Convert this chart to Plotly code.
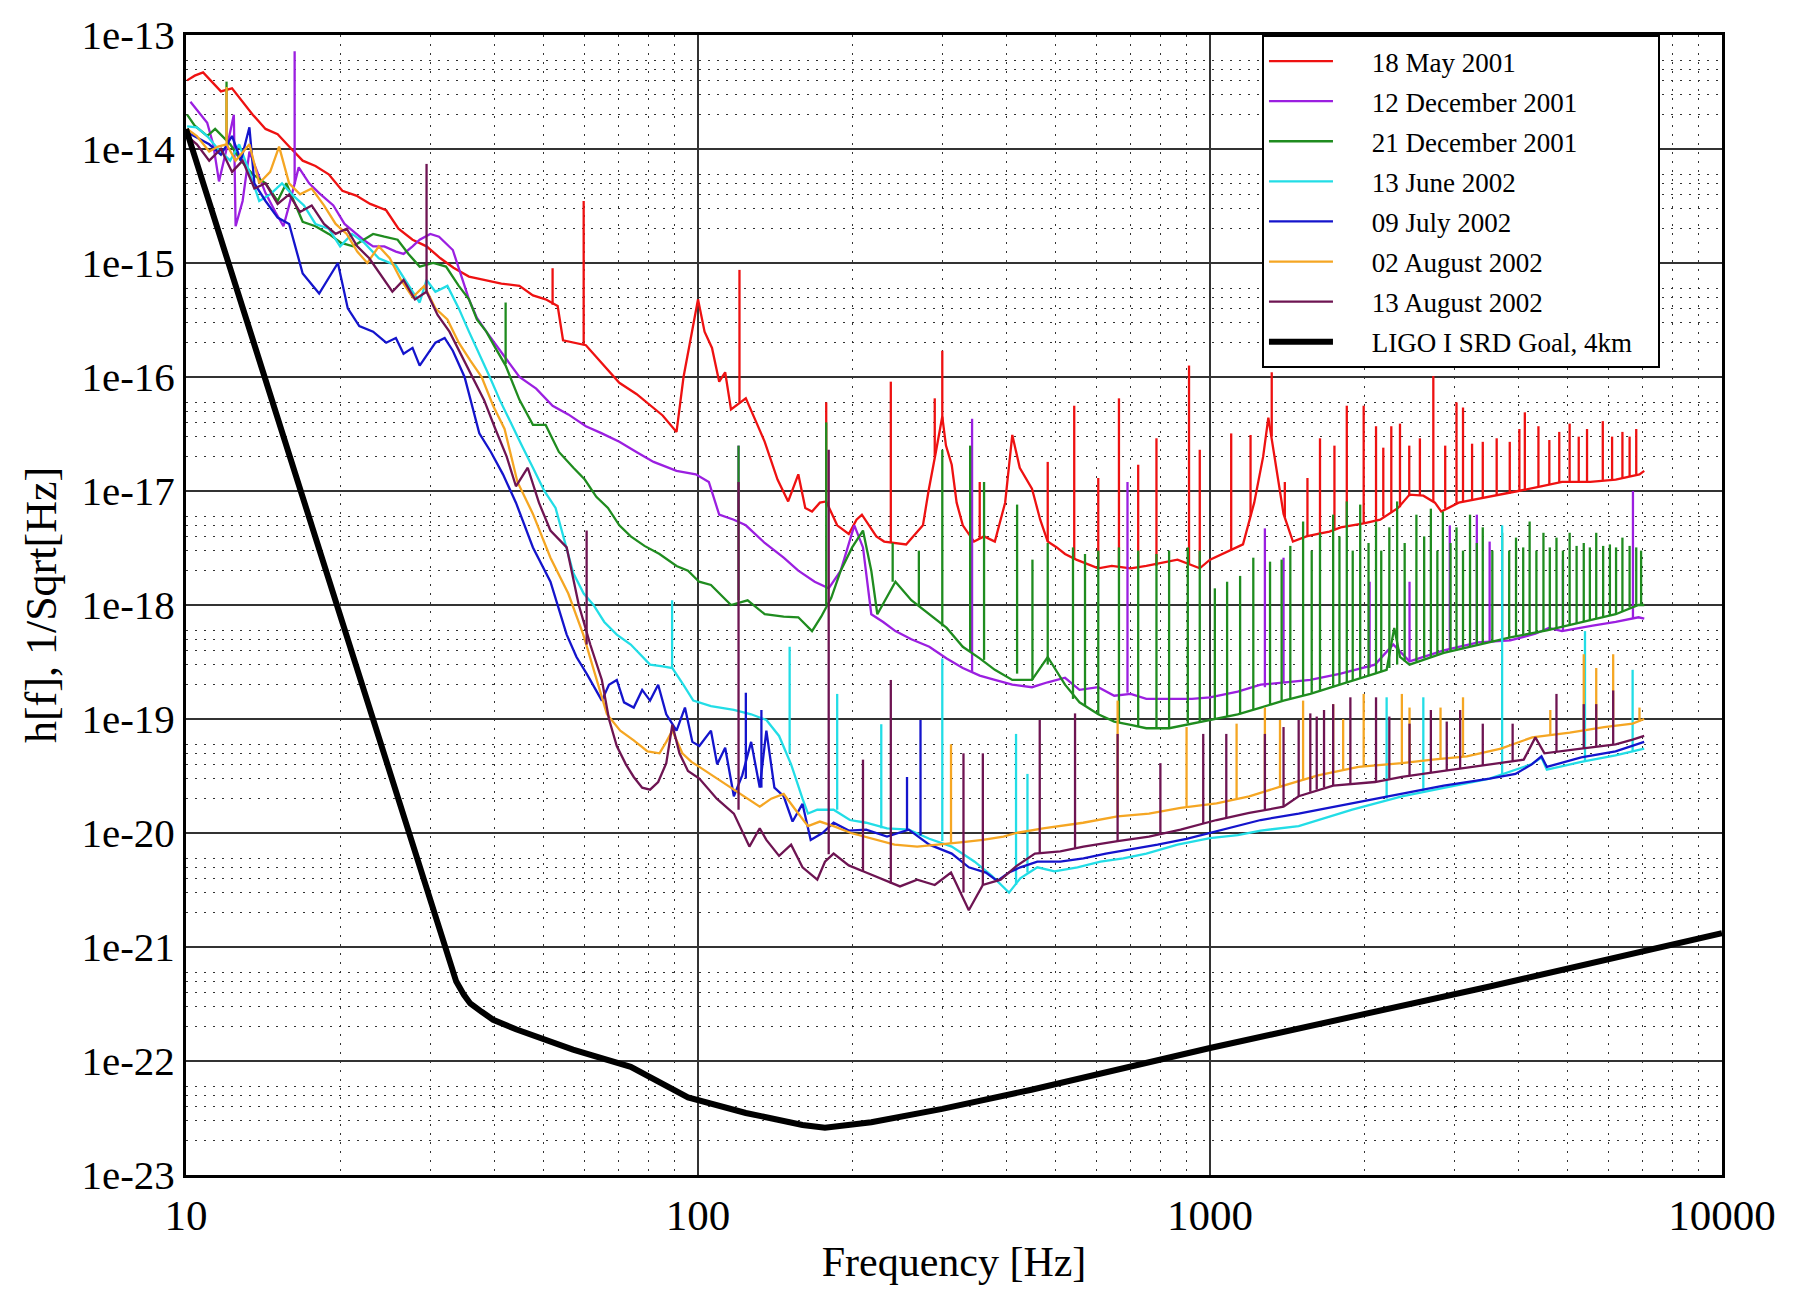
import plotly.graph_objects as go

# ---------------- data ----------------
# 18 May 2001
may18_f = [10.05, 10.4, 10.8, 11.3, 11.7, 12.3, 13.0, 13.5, 14.3, 15.1,
           15.9, 16.9, 17.9, 19.0, 20.2, 21.5, 22.9, 24.6, 26.0, 27.7,
           29.5, 31.4, 33.3, 35.7, 38.2, 41.3, 44.8, 47.6, 50.4, 53.2,
           54.5, 57.1, 60.4, 63.3, 66.7, 70.2, 75.8, 81.1, 85.3, 90.8,
           93.7, 97.8, 100, 103, 106.5, 110, 113, 116, 124, 130,
           135, 143, 150, 157, 162, 167, 173, 178, 187, 197,
           204, 209, 223, 231, 245, 255, 275, 282, 292, 300,
           305, 313, 320, 329, 346, 362, 380, 398, 411, 425,
           449, 466, 482, 502, 521, 548, 605, 643, 700, 751,
           864, 955, 1000, 1054, 1160, 1220, 1270, 1300, 1336, 1392,
           1452, 1543, 1625, 1711, 1800, 1996, 2150, 2330, 2453, 2610,
           2750, 2830, 3060, 3430, 3680, 4000, 4430, 4870, 5530, 6200,
           6900, 7050]
may18_h = [4.0e-14, 4.4e-14, 4.7e-14, 3.8e-14, 3.2e-14, 3.4e-14, 2.5e-14, 2.0e-14, 1.5e-14, 1.35e-14,
           1.05e-14, 7.9e-15, 7.1e-15, 6.0e-15, 4.3e-15, 3.9e-15, 3.3e-15, 2.9e-15, 2.0e-15, 1.6e-15,
           1.4e-15, 1.1e-15, 9.1e-16, 7.6e-16, 7.1e-16, 6.6e-16, 6.3e-16, 5.2e-16, 4.8e-16, 4.2e-16,
           2.1e-16, 2.0e-16, 1.9e-16, 1.5e-16, 1.15e-16, 8.9e-17, 7.1e-17, 5.5e-17, 4.6e-17, 3.3e-17,
           1.0e-16, 2.8e-16, 4.8e-16, 2.5e-16, 1.8e-16, 9.1e-17, 1.1e-16, 5.2e-17, 6.5e-17, 4.0e-17,
           2.7e-17, 1.26e-17, 8.1e-18, 1.4e-17, 7.1e-18, 6.6e-18, 7.9e-18, 8.1e-18, 5.0e-18, 4.2e-18,
           5.6e-18, 6.2e-18, 4.0e-18, 3.6e-18, 3.5e-18, 3.4e-18, 5.0e-18, 1.0e-17, 2.3e-17, 4.5e-17,
           2.5e-17, 1.7e-17, 7.9e-18, 5.0e-18, 3.6e-18, 4.0e-18, 3.6e-18, 7.9e-18, 3.1e-17, 1.6e-17,
           1.05e-17, 5.6e-18, 3.6e-18, 3.2e-18, 2.8e-18, 2.5e-18, 2.1e-18, 2.2e-18, 2.1e-18, 2.2e-18,
           2.5e-18, 2.1e-18, 2.5e-18, 2.8e-18, 3.4e-18, 7.9e-18, 2.0e-17, 4.4e-17, 2.0e-17, 6.3e-18,
           3.6e-18, 4.0e-18, 4.2e-18, 4.4e-18, 4.8e-18, 5.2e-18, 5.6e-18, 7.1e-18, 9.3e-18, 9.1e-18,
           7.9e-18, 6.6e-18, 7.9e-18, 8.7e-18, 9.3e-18, 1.0e-17, 1.1e-17, 1.2e-17, 1.2e-17, 1.26e-17,
           1.4e-17, 1.5e-17]
may18_line_f = [52.0, 59.8, 120.5, 178, 238, 290, 300, 355, 482, 543,
                605, 664, 724, 786, 910, 955, 1100, 1200, 1320, 1400,
                1550, 1640, 1750, 1850, 1996, 2110, 2180, 2260, 2350, 2450,
                2570, 2730, 2880, 3030, 3120, 3250, 3410, 3630, 3850, 4020,
                4120, 4380, 4600, 4810, 5040, 5250, 5450, 5850, 6100, 6390,
                6600, 6800]
may18_line_lo = [4.3e-16, 1.9e-16, 6.0e-17, 7.5e-18, 3.5e-18, 2.0e-17, 4.0e-17, 3.8e-18, 3.6e-18, 2.5e-18,
                 2.1e-18, 2.2e-18, 2.1e-18, 2.2e-18, 2.3e-18, 2.1e-18, 3.0e-18, 6.0e-18, 3.0e-17, 6.0e-18,
                 4.0e-18, 4.2e-18, 4.5e-18, 4.9e-18, 5.2e-18, 5.4e-18, 6.0e-18, 6.5e-18, 7.2e-18, 9.0e-18,
                 9.2e-18, 8.0e-18, 7.0e-18, 7.8e-18, 8.0e-18, 8.2e-18, 8.7e-18, 9.2e-18, 9.5e-18, 1.0e-17,
                 1.0e-17, 1.1e-17, 1.15e-17, 1.2e-17, 1.2e-17, 1.2e-17, 1.2e-17, 1.25e-17, 1.25e-17, 1.3e-17,
                 1.35e-17, 1.4e-17]
may18_line_hi = [9.0e-16, 3.5e-15, 8.7e-16, 6.0e-17, 9.1e-17, 6.5e-17, 1.7e-16, 1.2e-17, 1.8e-17, 5.6e-17,
                 1.3e-17, 6.5e-17, 1.7e-17, 2.9e-17, 1.26e-16, 2.3e-17, 3.2e-17, 3.1e-17, 1.1e-16, 1.2e-17,
                 1.3e-17, 2.9e-17, 2.5e-17, 5.6e-17, 5.6e-17, 3.7e-17, 2.4e-17, 3.7e-17, 3.9e-17, 2.5e-17,
                 2.9e-17, 1.02e-16, 2.5e-17, 6.0e-17, 5.4e-17, 2.6e-17, 2.7e-17, 2.9e-17, 2.7e-17, 3.5e-17,
                 4.9e-17, 3.7e-17, 2.8e-17, 3.3e-17, 3.9e-17, 3.0e-17, 3.5e-17, 4.1e-17, 3.0e-17, 3.3e-17,
                 3.0e-17, 3.5e-17]

# 12 December 2001
dec12_f = [10.2, 10.5, 11.0, 11.3, 11.6, 12.0, 12.4, 12.5, 12.9, 13.3,
           13.8, 14.3, 14.95, 15.5, 15.9, 16.3, 16.6, 17.4, 18.2, 19.4,
           20.4, 21.2, 22.2, 23.2, 24.4, 25.7, 26.6, 27.7, 28.6, 30.0,
           31.2, 33.2, 34.4, 35.7, 37.0, 38.6, 41.5, 44.8, 48.3, 52.0,
           55.8, 60.4, 64.9, 70.2, 75.8, 81.9, 90.8, 99, 105, 110,
           117.5, 124, 135, 147, 157, 169, 180, 190, 202, 210,
           218, 230, 243, 261, 283, 306, 329, 355, 380, 411,
           449, 482, 521, 556, 605, 650, 700, 751, 832, 922,
           1000, 1133, 1256, 1392, 1570, 1800, 2100, 2280, 2453, 2862,
           3340, 3860, 4321, 4590, 4870, 5590, 6200, 6870, 7050]
dec12_h = [2.6e-14, 2.2e-14, 1.7e-14, 1.1e-14, 5.2e-15, 1.0e-14, 2.0e-14, 2.1e-15, 3.5e-15, 9.5e-15,
           6.3e-15, 4.1e-15, 2.8e-15, 2.1e-15, 3.2e-15, 5.0e-15, 6.9e-15, 5.0e-15, 4.1e-15, 3.2e-15,
           2.2e-15, 1.9e-15, 1.6e-15, 1.4e-15, 1.4e-15, 1.26e-15, 1.2e-15, 1.4e-15, 1.6e-15, 1.8e-15,
           1.7e-15, 1.3e-15, 7.9e-16, 4.8e-16, 3.3e-16, 2.5e-16, 1.6e-16, 1.0e-16, 7.9e-17, 5.6e-17,
           4.7e-17, 3.7e-17, 3.2e-17, 2.7e-17, 2.2e-17, 1.8e-17, 1.5e-17, 1.4e-17, 1.2e-17, 6.2e-18,
           5.6e-18, 5.0e-18, 3.5e-18, 2.6e-18, 2.0e-18, 1.6e-18, 1.4e-18, 2.0e-18, 5.0e-18, 3.2e-18,
           8.3e-19, 7.1e-19, 5.9e-19, 5.0e-19, 4.3e-19, 3.4e-19, 2.8e-19, 2.4e-19, 2.2e-19, 2.0e-19,
           1.9e-19, 2.1e-19, 2.3e-19, 1.8e-19, 1.9e-19, 1.6e-19, 1.66e-19, 1.5e-19, 1.5e-19, 1.5e-19,
           1.55e-19, 1.74e-19, 2.0e-19, 2.1e-19, 2.2e-19, 2.5e-19, 3.0e-19, 4.5e-19, 3.2e-19, 4.0e-19,
           4.7e-19, 4.9e-19, 5.6e-19, 6.3e-19, 5.9e-19, 6.6e-19, 7.1e-19, 7.8e-19, 7.6e-19]
dec12_line_f = [16.3, 120, 343, 690, 1280, 1392, 2050, 2453, 2940, 3320, 3517, 4890, 6700]
dec12_line_lo = [5.0e-15, 5.6e-18, 2.6e-19, 1.7e-19, 1.9e-19, 2.1e-19, 2.8e-19, 3.2e-19, 4.1e-19, 4.7e-19,
                 4.8e-19, 5.9e-19, 7.6e-19]
dec12_line_hi = [7.2e-14, 2.5e-17, 4.3e-17, 1.2e-17, 4.7e-18, 2.6e-18, 1.6e-18, 1.6e-18, 5.0e-18, 6.2e-18,
                 3.6e-18, 2.5e-18, 1.0e-17]

# 21 December 2001
dec21_f = [10.05, 10.4, 11.0, 11.4, 12.2, 12.8, 13.5, 14.3, 15.1, 15.7,
           16.9, 17.9, 19.0, 20.1, 21.2, 22.2, 23.2, 24.4, 25.9, 27.2,
           28.6, 30.4, 32.2, 34.1, 35.7, 37.0, 38.6, 40.2, 42.1, 44.8,
           47.6, 50.4, 53.5, 57.1, 60.1, 63.3, 66.7, 70.2, 73.9, 78.6,
           84.1, 90.8, 95.6, 100.5, 106, 116, 125, 135, 147, 157,
           167, 174, 182, 190, 200, 210, 218, 224, 236, 243,
           261, 283, 306, 329, 355, 380, 411, 449, 482, 521,
           556, 605, 650, 700, 751, 832, 922, 1000, 1133, 1256,
           1392, 1570, 1800, 2100, 2213, 2290, 2350, 2453, 2862, 3340,
           3860, 4549, 5309, 6200, 6870, 7050]
dec21_h = [2.0e-14, 1.6e-14, 1.3e-14, 1.5e-14, 1.1e-14, 7.9e-15, 6.0e-15, 5.0e-15, 3.5e-15, 5.0e-15,
           2.3e-15, 2.1e-15, 1.8e-15, 1.5e-15, 1.4e-15, 1.6e-15, 1.8e-15, 1.7e-15, 1.6e-15, 1.2e-15,
           9.3e-16, 1.0e-15, 9.3e-16, 6.3e-16, 4.8e-16, 3.2e-16, 2.5e-16, 1.8e-16, 1.26e-16, 6.3e-17,
           3.8e-17, 3.8e-17, 2.2e-17, 1.6e-17, 1.26e-17, 8.9e-18, 7.1e-18, 5.0e-18, 4.0e-18, 3.3e-18,
           2.8e-18, 2.2e-18, 2.0e-18, 1.6e-18, 1.5e-18, 1.0e-18, 1.1e-18, 8.3e-19, 7.9e-19, 7.8e-19,
           5.9e-19, 7.9e-19, 1.15e-18, 2.0e-18, 3.2e-18, 4.5e-18, 2.0e-18, 8.3e-19, 1.26e-18, 1.6e-18,
           1.1e-18, 8.3e-19, 6.3e-19, 4.3e-19, 3.4e-19, 2.7e-19, 2.2e-19, 2.2e-19, 3.5e-19, 2.0e-19,
           1.4e-19, 1.1e-19, 9.5e-20, 8.9e-20, 8.3e-20, 8.3e-20, 9.1e-20, 9.8e-20, 1.1e-19, 1.26e-19,
           1.45e-19, 1.66e-19, 2.0e-19, 2.5e-19, 2.7e-19, 6.3e-19, 3.5e-19, 3.0e-19, 3.8e-19, 4.5e-19,
           5.2e-19, 6.0e-19, 7.1e-19, 8.3e-19, 1.0e-18, 1.0e-18]
dec21_line_f = [12.0, 42.1, 120, 178, 240, 270, 300, 340, 362, 420,
                450, 482, 540, 570, 605, 664, 724, 786, 832, 905,
                955, 1022, 1080, 1145, 1215, 1310, 1380, 1435, 1520, 1580,
                1640, 1740, 1790, 1850, 1900, 1965, 2040, 2110, 2160, 2240,
                2320, 2400, 2530, 2620, 2700, 2780, 2850, 2950, 3030, 3120,
                3220, 3320, 3410, 3560, 3720, 3840, 3960, 4090, 4210, 4340,
                4480, 4610, 4750, 4890, 5040, 5200, 5370, 5520, 5680, 5860,
                6040, 6210, 6390, 6600, 6800, 6950]
dec21_line_lo = [1.2e-14, 1.3e-16, 1.1e-18, 1.0e-18, 1.6e-18, 1.0e-18, 6.5e-19, 4.0e-19, 3.3e-19, 2.5e-19,
                 2.2e-19, 3.0e-19, 1.5e-19, 1.3e-19, 1.1e-19, 9.3e-20, 8.6e-20, 8.3e-20, 8.3e-20, 9.2e-20,
                 9.5e-20, 1.0e-19, 1.05e-19, 1.1e-19, 1.2e-19, 1.35e-19, 1.45e-19, 1.5e-19, 1.6e-19, 1.7e-19,
                 1.75e-19, 1.9e-19, 2.0e-19, 2.1e-19, 2.2e-19, 2.3e-19, 2.4e-19, 2.5e-19, 2.6e-19, 2.8e-19,
                 3.0e-19, 3.2e-19, 3.2e-19, 3.4e-19, 3.5e-19, 3.6e-19, 3.8e-19, 3.9e-19, 4.0e-19, 4.1e-19,
                 4.3e-19, 4.4e-19, 4.6e-19, 4.8e-19, 5.0e-19, 5.2e-19, 5.3e-19, 5.4e-19, 5.5e-19, 5.7e-19,
                 5.9e-19, 6.0e-19, 6.2e-19, 6.4e-19, 6.6e-19, 6.9e-19, 7.1e-19, 7.3e-19, 7.6e-19, 7.9e-19,
                 8.1e-19, 8.3e-19, 8.8e-19, 9.5e-19, 1.0e-18, 1.0e-18]
dec21_line_hi = [3.9e-14, 4.5e-16, 2.5e-17, 4.0e-17, 3.5e-18, 3.0e-18, 2.3e-17, 2.5e-17, 1.2e-17, 7.6e-18,
                 2.5e-18, 3.5e-18, 3.2e-18, 2.8e-18, 3.0e-18, 3.2e-18, 3.0e-18, 2.8e-18, 3.0e-18, 3.2e-18,
                 3.0e-18, 1.4e-18, 1.6e-18, 1.8e-18, 2.6e-18, 2.4e-18, 2.5e-18, 3.3e-18, 5.4e-18, 3.0e-18,
                 4.3e-18, 6.2e-18, 4.0e-18, 8.1e-18, 3.0e-18, 7.6e-18, 3.5e-18, 5.4e-18, 3.0e-18, 4.8e-18,
                 8.1e-18, 3.5e-18, 6.2e-18, 4.0e-18, 7.0e-18, 3.0e-18, 6.6e-18, 3.5e-18, 4.8e-18, 3.0e-18,
                 6.2e-18, 3.5e-18, 4.8e-18, 3.0e-18, 4.3e-18, 3.0e-18, 3.9e-18, 3.2e-18, 5.4e-18, 3.0e-18,
                 4.3e-18, 3.2e-18, 3.9e-18, 3.0e-18, 4.3e-18, 3.3e-18, 3.5e-18, 3.2e-18, 4.3e-18, 3.3e-18,
                 3.4e-18, 3.2e-18, 3.9e-18, 3.3e-18, 3.2e-18, 3.0e-18]

# 13 June 2002
jun13_f = [10.05, 10.5, 11.0, 11.55, 12.2, 12.7, 13.3, 13.9, 14.6, 15.4,
           16.1, 17.0, 17.9, 19.0, 20.0, 21.1, 22.3, 23.8, 25.7, 27.2,
           28.6, 29.5, 30.7, 32.4, 34.1, 35.7, 37.4, 39.2, 41.0, 43.0,
           45.3, 47.6, 50.1, 52.7, 57.1, 59.8, 62.5, 65.6, 69.4, 73.9,
           80.6, 85.3, 89.1, 93.6, 97.9, 106, 117.5, 127, 136, 144,
           152, 160, 164, 171, 184, 198, 213, 234, 258, 283,
           313, 347, 375, 405, 426, 460, 497, 551, 611, 677,
           751, 864, 1000, 1133, 1256, 1490, 1896, 2370, 2862, 3517,
           4240, 4440, 4549, 5309, 6196, 7047]
jun13_h = [1.58e-14, 1.55e-14, 1.3e-14, 1.0e-14, 7.9e-15, 1.1e-14, 6.3e-15, 3.5e-15, 4.0e-15, 5.0e-15,
           4.0e-15, 3.2e-15, 2.2e-15, 2.0e-15, 1.4e-15, 1.8e-15, 1.5e-15, 1.1e-15, 9.5e-16, 6.3e-16,
           4.5e-16, 7.1e-16, 5.6e-16, 6.3e-16, 4.0e-16, 2.5e-16, 1.6e-16, 1.0e-16, 6.3e-17, 4.0e-17,
           2.5e-17, 1.6e-17, 1.0e-17, 7.1e-18, 1.9e-18, 1.26e-18, 1.0e-18, 7.1e-19, 5.5e-19, 4.5e-19,
           3.0e-19, 2.9e-19, 2.8e-19, 2.0e-19, 1.45e-19, 1.3e-19, 1.2e-19, 1.1e-19, 9.8e-20, 7.1e-20,
           4.0e-20, 2.0e-20, 1.48e-20, 1.6e-20, 1.6e-20, 1.3e-20, 1.23e-20, 1.1e-20, 1.07e-20, 8.9e-21,
           7.6e-21, 5.6e-21, 4.2e-21, 3.0e-21, 4.0e-21, 5.0e-21, 4.6e-21, 5.0e-21, 5.6e-21, 6.0e-21,
           6.6e-21, 7.9e-21, 9.0e-21, 9.6e-21, 1.05e-20, 1.15e-20, 1.6e-20, 2.1e-20, 2.5e-20, 3.0e-20,
           4.0e-20, 4.6e-20, 3.6e-20, 4.2e-20, 4.8e-20, 5.5e-20]
jun13_line_f = [89, 151, 187, 228, 300, 418, 440, 2213, 2610, 3720, 5400, 6690]
jun13_line_lo = [2.8e-19, 5.0e-20, 1.6e-20, 1.1e-20, 8.5e-21, 3.5e-21, 4.5e-21, 2.0e-20, 2.3e-20, 3.2e-20,
                 4.3e-20, 5.2e-20]
jun13_line_hi = [1.1e-18, 4.3e-19, 1.66e-19, 9.0e-20, 3.4e-19, 7.4e-20, 3.3e-20, 1.55e-19, 1.55e-19, 5.0e-18,
                 5.9e-19, 2.7e-19]

# 09 July 2002
jul09_f = [10.05, 10.5, 11.1, 11.7, 12.3, 12.8, 13.3, 13.6, 14.3, 15.1,
           15.9, 16.9, 18.2, 19.8, 20.7, 21.8, 23.2, 24.6, 25.7, 26.6,
           27.7, 28.6, 29.7, 30.7, 32.0, 33.2, 35.0, 37.4, 39.4, 41.6,
           44.1, 47.6, 51.5, 55.4, 57.9, 60.6, 64.9, 67.0, 69.4, 71.7,
           74.9, 77.8, 80.6, 83.6, 86.7, 90.8, 94.3, 97.5, 100.6, 106,
           109, 113, 117.5, 122, 127, 132, 136, 141, 147, 153,
           160, 166, 175, 184, 197, 213, 234, 258, 283, 313,
           338, 365, 384, 405, 426, 460, 510, 566, 626, 694,
           790, 900, 1000, 1133, 1256, 1490, 1896, 2370, 2862, 3517,
           3950, 4250, 4440, 4549, 5309, 6196, 7047]
jul09_h = [1.4e-14, 1.26e-14, 1.1e-14, 8.9e-15, 1.3e-14, 7.9e-15, 1.55e-14, 5.0e-15, 3.5e-15, 2.5e-15,
           2.2e-15, 8.1e-16, 5.4e-16, 1.0e-15, 4.0e-16, 2.8e-16, 2.5e-16, 2.0e-16, 2.2e-16, 1.6e-16,
           1.8e-16, 1.26e-16, 1.6e-16, 2.0e-16, 2.2e-16, 1.7e-16, 1.0e-16, 3.2e-17, 2.2e-17, 1.4e-17,
           7.9e-18, 3.2e-18, 1.6e-18, 5.5e-19, 3.5e-19, 2.5e-19, 1.45e-19, 2.0e-19, 2.2e-19, 1.4e-19,
           1.26e-19, 1.8e-19, 1.45e-19, 2.0e-19, 1.1e-19, 7.9e-20, 1.26e-19, 6.3e-20, 5.8e-20, 7.9e-20,
           4.0e-20, 5.6e-20, 2.1e-20, 3.2e-20, 6.3e-20, 2.5e-20, 7.9e-20, 2.5e-20, 2.1e-20, 1.26e-20,
           1.8e-20, 8.7e-21, 1.0e-20, 1.23e-20, 1.05e-20, 1.07e-20, 9.3e-21, 1.07e-20, 7.9e-21, 6.6e-21,
           5.0e-21, 4.5e-21, 3.8e-21, 4.5e-21, 5.0e-21, 5.6e-21, 5.6e-21, 6.0e-21, 6.6e-21, 7.1e-21,
           7.9e-21, 8.9e-21, 1.0e-20, 1.15e-20, 1.3e-20, 1.48e-20, 1.82e-20, 2.2e-20, 2.6e-20, 3.0e-20,
           3.3e-20, 4.0e-20, 4.7e-20, 3.8e-20, 4.6e-20, 5.2e-20, 6.3e-20]
jul09_line_f = [124, 133, 256, 272]
jul09_line_lo = [3.0e-20, 2.5e-20, 1.05e-20, 9.5e-21]
jul09_line_hi = [1.7e-19, 1.2e-19, 3.1e-20, 9.8e-20]

# 02 August 2002
aug02_f = [10.05, 10.5, 11.1, 11.55, 12.0, 12.5, 13.3, 13.9, 14.6, 15.2,
           15.9, 16.7, 17.6, 18.6, 19.6, 20.6, 21.6, 22.6, 23.8, 25.0,
           26.3, 27.7, 29.2, 30.7, 32.4, 34.1, 35.9, 37.8, 39.8, 41.9,
           44.4, 47.6, 51.5, 55.8, 59.7, 63.0, 66.4, 70.5, 74.9, 79.7,
           84.1, 86.7, 89.1, 93.2, 97.1, 100.6, 108.8, 117.5, 125, 132,
           139, 147, 155, 164, 173, 184, 199, 218, 242, 268,
           297, 329, 360, 395, 418, 472, 565, 660, 760, 876,
           1030, 1193, 1392, 1625, 1950, 2370, 2719, 3173, 3700, 4260,
           5043, 5885, 6690, 7047]
aug02_h = [1.5e-14, 1.3e-14, 9.5e-15, 1.05e-14, 1.1e-14, 7.9e-15, 1.1e-14, 5.0e-15, 6.3e-15, 1.05e-14,
           5.0e-15, 4.0e-15, 4.5e-15, 3.2e-15, 2.2e-15, 1.8e-15, 1.26e-15, 1.0e-15, 1.4e-15, 1.1e-15,
           7.1e-16, 5.0e-16, 6.3e-16, 4.0e-16, 3.2e-16, 2.0e-16, 1.4e-16, 1.0e-16, 5.6e-17, 3.5e-17,
           1.2e-17, 6.3e-18, 2.6e-18, 1.26e-18, 5.5e-19, 2.5e-19, 1.1e-19, 7.9e-20, 6.5e-20, 5.2e-20,
           5.0e-20, 6.3e-20, 7.9e-20, 5.0e-20, 4.2e-20, 3.8e-20, 3.0e-20, 2.4e-20, 2.0e-20, 1.7e-20,
           2.0e-20, 2.2e-20, 1.6e-20, 1.15e-20, 1.26e-20, 1.15e-20, 1.0e-20, 8.9e-21, 7.9e-21, 7.6e-21,
           7.9e-21, 8.3e-21, 8.7e-21, 9.3e-21, 1.0e-20, 1.1e-20, 1.23e-20, 1.4e-20, 1.48e-20, 1.66e-20,
           1.82e-20, 2.1e-20, 2.6e-20, 3.2e-20, 3.8e-20, 4.1e-20, 4.4e-20, 4.7e-20, 5.5e-20, 6.9e-20,
           7.6e-20, 8.5e-20, 9.1e-20, 1.0e-19]
aug02_line_f = [12.0, 312, 660, 900, 1127, 1280, 1370, 1520, 1740, 1820,
                1996, 2370, 2453, 2820, 3120, 4620, 5370, 5680, 6130, 6900]
aug02_line_lo = [1.1e-14, 8.0e-21, 1.4e-20, 1.7e-20, 2.0e-20, 2.3e-20, 2.5e-20, 2.9e-20, 3.4e-20, 3.6e-20,
                 3.8e-20, 4.1e-20, 4.2e-20, 4.5e-20, 4.7e-20, 7.2e-20, 7.8e-20, 8.2e-20, 8.7e-20, 9.5e-20]
aug02_line_hi = [3.5e-14, 6.0e-20, 1.45e-19, 8.5e-20, 9.1e-20, 1.26e-19, 9.8e-20, 1.45e-19, 1.35e-19, 1.0e-19,
                 1.66e-19, 1.66e-19, 1.26e-19, 1.26e-19, 1.55e-19, 1.2e-19, 3.7e-19, 2.8e-19, 3.7e-19, 1.26e-19]

# 13 August 2002
aug13_f = [10.05, 10.5, 11.1, 11.7, 12.3, 12.9, 13.6, 14.3, 15.1, 15.9,
           16.7, 17.6, 18.6, 19.6, 20.6, 21.6, 22.8, 24.0, 25.3, 26.6,
           28.0, 29.5, 31.0, 32.7, 34.4, 36.2, 38.2, 40.2, 42.3, 44.1,
           46.5, 48.9, 51.5, 55.4, 58.5, 61.6, 64.9, 67.0, 69.4, 72.3,
           74.9, 77.8, 80.6, 83.6, 86.7, 89.1, 92, 95.6, 100.6, 108.8,
           117.5, 126, 132, 136, 144, 152, 160, 171, 177, 184,
           197, 213, 230, 248, 268, 290, 312, 338, 360, 390,
           418, 455, 510, 566, 660, 760, 876, 1030, 1193, 1392,
           1490, 1740, 2100, 2370, 2862, 3680, 4100, 4320, 4500, 5309,
           6196, 6690, 7047]
aug13_h = [1.3e-14, 1.1e-14, 7.9e-15, 1.0e-14, 6.3e-15, 7.9e-15, 4.5e-15, 5.0e-15, 3.3e-15, 4.0e-15,
           2.8e-15, 3.2e-15, 2.2e-15, 1.8e-15, 2.0e-15, 1.4e-15, 1.1e-15, 7.9e-16, 5.6e-16, 7.1e-16,
           4.8e-16, 5.6e-16, 3.5e-16, 2.5e-16, 1.6e-16, 1.0e-16, 6.3e-17, 3.5e-17, 2.0e-17, 1.1e-17,
           1.6e-17, 7.9e-18, 4.5e-18, 3.2e-18, 1.0e-18, 4.5e-19, 2.2e-19, 1.0e-19, 5.8e-20, 4.0e-20,
           3.1e-20, 2.5e-20, 2.4e-20, 2.8e-20, 4.1e-20, 8.9e-20, 5.0e-20, 3.5e-20, 3.0e-20, 2.0e-20,
           1.48e-20, 7.6e-21, 1.1e-20, 8.7e-21, 6.3e-21, 7.9e-21, 5.0e-21, 3.9e-21, 5.6e-21, 6.6e-21,
           5.2e-21, 4.5e-21, 3.9e-21, 3.4e-21, 3.9e-21, 3.5e-21, 4.5e-21, 2.1e-21, 3.5e-21, 3.9e-21,
           5.1e-21, 6.6e-21, 6.9e-21, 7.6e-21, 8.5e-21, 9.3e-21, 1.07e-20, 1.3e-20, 1.5e-20, 1.7e-20,
           2.1e-20, 2.6e-20, 2.8e-20, 3.1e-20, 3.5e-20, 4.1e-20, 4.4e-20, 6.9e-20, 5.0e-20, 5.5e-20,
           6.0e-20, 6.6e-20, 7.1e-20]
aug13_line_f = [29.5, 60.6, 120, 180, 210, 238, 330, 360, 465, 545,
                660, 800, 970, 1076, 1280, 1392, 1490, 1570, 1616, 1670,
                1740, 1880, 2110, 2240, 2453, 2700, 2900, 3080, 3410, 3900,
                4750, 5370, 5680, 6130]
aug13_line_lo = [5.6e-16, 4.5e-19, 1.6e-20, 6.5e-21, 4.6e-21, 3.6e-21, 3.0e-21, 3.5e-21, 6.7e-21, 7.4e-21,
                 8.5e-21, 9.8e-21, 1.2e-20, 1.35e-20, 1.6e-20, 1.7e-20, 2.1e-20, 2.3e-20, 2.4e-20, 2.5e-20,
                 2.6e-20, 2.7e-20, 2.8e-20, 3.0e-20, 3.2e-20, 3.4e-20, 3.5e-20, 3.7e-20, 3.9e-20, 4.3e-20,
                 5.2e-20, 5.5e-20, 5.7e-20, 6.0e-20]
aug13_line_hi = [7.4e-15, 4.5e-18, 1.2e-17, 2.3e-17, 4.4e-20, 2.2e-19, 5.0e-20, 5.0e-20, 9.8e-20, 1.12e-19,
                 7.4e-20, 4.1e-20, 7.4e-20, 7.4e-20, 7.4e-20, 8.5e-20, 9.8e-20, 1.12e-19, 1.05e-19, 1.2e-19,
                 1.35e-19, 1.55e-19, 1.55e-19, 1.05e-19, 9.1e-20, 1.2e-19, 9.5e-20, 1.2e-19, 9.1e-20, 9.1e-20,
                 1.66e-19, 1.35e-19, 1.35e-19, 1.78e-19]

# LIGO I SRD goal, 4 km
srd_f = [10, 33.7, 34.9, 35.9, 37.8, 39.8, 44.1, 57.0, 73.9, 95.6,
         124, 160, 177, 218, 300, 448, 1000, 3517, 10000]
srd_h = [1.5e-14, 5.0e-22, 3.8e-22, 3.2e-22, 2.7e-22, 2.3e-22, 1.9e-22, 1.26e-22, 8.9e-23, 4.8e-23,
         3.5e-23, 2.75e-23, 2.6e-23, 2.9e-23, 3.8e-23, 5.6e-23, 1.3e-22, 4.5e-22, 1.32e-21]

series_names = ["18 May 2001", "12 December 2001", "21 December 2001", "13 June 2002",
                "09 July 2002", "02 August 2002", "13 August 2002"]
srd_name = "LIGO I SRD Goal, 4km"
series_colors = ["#ee1111", "#9b1fe0", "#1f8c1f", "#22dde6", "#1414cc", "#f5a623", "#6e1452"]

x_tick_vals = [10, 100, 1000, 10000]
x_tick_text = ["10", "100", "1000", "10000"]
y_tick_vals = [1e-13, 1e-14, 1e-15, 1e-16, 1e-17, 1e-18, 1e-19, 1e-20, 1e-21, 1e-22, 1e-23]
y_tick_text = ["1e-13", "1e-14", "1e-15", "1e-16", "1e-17", "1e-18", "1e-19", "1e-20", "1e-21", "1e-22", "1e-23"]
x_minor_vals = [20, 30, 40, 50, 60, 70, 80, 90, 200, 300, 400, 500, 600, 700, 800, 900,
                2000, 3000, 4000, 5000, 6000, 7000, 8000, 9000]
y_minor_vals = [m * d for d in [1e-23, 1e-22, 1e-21, 1e-20, 1e-19, 1e-18, 1e-17, 1e-16, 1e-15, 1e-14]
                for m in [2, 3, 4, 5, 6]]

# ---------------- build ----------------
spectra = [
    (may18_f, may18_h, may18_line_f, may18_line_lo, may18_line_hi),
    (dec12_f, dec12_h, dec12_line_f, dec12_line_lo, dec12_line_hi),
    (dec21_f, dec21_h, dec21_line_f, dec21_line_lo, dec21_line_hi),
    (jun13_f, jun13_h, jun13_line_f, jun13_line_lo, jun13_line_hi),
    (jul09_f, jul09_h, jul09_line_f, jul09_line_lo, jul09_line_hi),
    (aug02_f, aug02_h, aug02_line_f, aug02_line_lo, aug02_line_hi),
    (aug13_f, aug13_h, aug13_line_f, aug13_line_lo, aug13_line_hi),
]

FONT = "Liberation Serif, Times New Roman, serif"
PAD_L = "\u00a0" * 5
PAD_R = "\u00a0" * 3
fig = go.Figure()

for i, (f, h, lf, llo, lhi) in enumerate(spectra):
    assert len(f) == len(h), (series_names[i], len(f), len(h))
    assert len(lf) == len(llo) == len(lhi), (series_names[i], len(lf), len(llo), len(lhi))
    xs = list(f)
    ys = list(h)
    for a, lo, hi in zip(lf, llo, lhi):
        xs += [None, a, a]
        ys += [None, lo, hi]
    fig.add_trace(go.Scatter(x=xs, y=ys, mode="lines", name=PAD_L + series_names[i] + PAD_R,
                             legendgroup=f"g{i}",
                             line=dict(color=series_colors[i], width=2.3),
                             connectgaps=False, hoverinfo="skip"))

assert len(srd_f) == len(srd_h)
fig.add_trace(go.Scatter(x=srd_f, y=srd_h, mode="lines", name=PAD_L + srd_name + PAD_R,
                         legendgroup="g7", line=dict(color="black", width=6),
                         hoverinfo="skip"))

axis_common = dict(showline=True, mirror=True, linecolor="black", linewidth=3,
                   ticks="", zeroline=False, showgrid=True, gridcolor="#333333",
                   gridwidth=1.8)

fig.update_layout(
    width=1797, height=1290,
    margin=dict(l=186, r=75, t=34, b=110),
    paper_bgcolor="white", plot_bgcolor="white",
    font=dict(family=FONT, size=40, color="black"),
    xaxis=dict(type="log", range=[1, 4], tickvals=x_tick_vals, ticktext=x_tick_text,
               tickfont=dict(size=43),
               title=dict(text="Frequency [Hz]", font=dict(size=42), standoff=10),
               minor=dict(tickvals=x_minor_vals, showgrid=True, gridcolor="#333333",
                          griddash="2px,7px", gridwidth=1.4, ticks=""),
               **axis_common),
    yaxis=dict(type="log", range=[-23, -13], tickvals=y_tick_vals, ticktext=y_tick_text,
               tickfont=dict(size=41),
               title=dict(text="h[f], 1/Sqrt[Hz]", font=dict(size=44), standoff=12),
               minor=dict(tickvals=y_minor_vals, showgrid=True, gridcolor="#333333",
                          griddash="2px,7px", gridwidth=1.4, ticks=""),
               **axis_common),
    legend=dict(x=0.7005, y=1, xanchor="left", yanchor="top",
                bgcolor="white", bordercolor="black", borderwidth=2,
                font=dict(family=FONT, size=27, color="black"),
                tracegroupgap=2, itemwidth=64),
    showlegend=True,
)

fig.write_html("out.html")
